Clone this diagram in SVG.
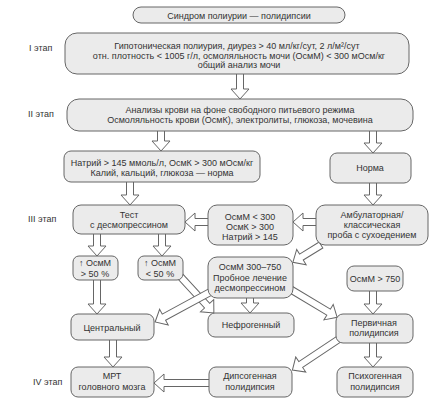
<svg xmlns="http://www.w3.org/2000/svg" width="446" height="400" viewBox="0 0 446 400">
<style>
.bx{fill:#ebebeb;stroke:#666;stroke-width:1}
.ar{fill:#fff;stroke:#666;stroke-width:1;stroke-linejoin:miter}
text{font-family:"Liberation Sans",Arial,sans-serif;font-size:9px;fill:#333;text-anchor:middle}
.lb{text-anchor:start}
</style>
<rect width="446" height="400" fill="#fff"/>
<g id="connectors">
<path class="ar" transform="translate(240,73) rotate(90)" d="M0,-3.5H16V-9L26,0L16,9V3.5H0Z"/>
<path class="ar" transform="translate(161,130) rotate(90)" d="M0,-3.5H11V-9L21,0L11,9V3.5H0Z"/>
<path class="ar" transform="translate(373,130) rotate(90)" d="M0,-3.5H13V-9L23,0L13,9V3.5H0Z"/>
<path class="ar" transform="translate(130,181) rotate(90)" d="M0,-3.5H14V-9L24,0L14,9V3.5H0Z"/>
<path class="ar" transform="translate(373,182) rotate(90)" d="M0,-3.5H13V-9L23,0L13,9V3.5H0Z"/>
<path class="ar" transform="translate(317,222) rotate(180)" d="M0,-3.5H14V-9L24,0L14,9V3.5H0Z"/>
<path class="ar" transform="translate(209,222) rotate(180)" d="M0,-3.5H14V-9L24,0L14,9V3.5H0Z"/>
<path class="ar" transform="translate(97,233) rotate(90)" d="M0,-3.5H13V-9L23,0L13,9V3.5H0Z"/>
<path class="ar" transform="translate(162,233) rotate(90)" d="M0,-3.5H13V-9L23,0L13,9V3.5H0Z"/>
<path class="ar" transform="translate(321,245) rotate(148.4)" d="M0,-3.5H23V-9L33,0L23,9V3.5H0Z"/>
<path class="ar" transform="translate(97,279) rotate(90)" d="M0,-3.5H25V-9L35,0L25,9V3.5H0Z"/>
<path class="ar" transform="translate(178,274) rotate(47.4)" d="M0,-3.5H43V-9L53,0L43,9V3.5H0Z"/>
<path class="ar" transform="translate(214,290) rotate(151.5)" d="M0,-3.5H57V-9L67,0L57,9V3.5H0Z"/>
<path class="ar" transform="translate(250,297) rotate(90)" d="M0,-3.5H6V-9L16,0L6,9V3.5H0Z"/>
<path class="ar" transform="translate(290,289) rotate(31)" d="M0,-3.5H45V-9L55,0L45,9V3.5H0Z"/>
<path class="ar" transform="translate(373,290) rotate(90)" d="M0,-3.5H14V-9L24,0L14,9V3.5H0Z"/>
<path class="ar" transform="translate(113,339) rotate(90)" d="M0,-3.5H18V-9L28,0L18,9V3.5H0Z"/>
<path class="ar" transform="translate(339,339) rotate(146.3)" d="M0,-3.5H46V-9L56,0L46,9V3.5H0Z"/>
<path class="ar" transform="translate(373,342) rotate(90)" d="M0,-3.5H15V-9L25,0L15,9V3.5H0Z"/>
<path class="ar" transform="translate(210,383) rotate(180)" d="M0,-3.5H46V-9L56,0L46,9V3.5H0Z"/>
</g>
<g id="stages">
<text class="lb" x="29" y="51">I этап</text>
<text class="lb" x="28" y="117">II этап</text>
<text class="lb" x="28" y="222">III этап</text>
<text class="lb" x="33" y="385">IV этап</text>
</g>
<g id="n1"><rect class="bx" x="133" y="7" width="212" height="16" rx="8"/><text x="239" y="18.5">Синдром полиурии — полидипсии</text></g>
<g id="n2"><rect class="bx" x="65" y="33" width="344" height="41" rx="12"/>
<text x="237" y="49">Гипотоническая полиурия, диурез &gt; 40 мл/кг/сут, 2 л/м²/сут</text>
<text x="239" y="58.5">отн. плотность &lt; 1005 г/л, осмоляльность мочи (ОсмМ) &lt; 300 мОсм/кг</text>
<text x="239" y="68">общий анализ мочи</text></g>
<g id="n3"><rect class="bx" x="67" y="99" width="346" height="32" rx="12"/>
<text x="240" y="113">Анализы крови на фоне свободного питьевого режима</text>
<text x="240" y="123">Осмоляльность крови (ОсмК), электролиты, глюкоза, мочевина</text></g>
<g id="n4"><rect class="bx" x="64" y="151" width="196" height="31" rx="7"/>
<text x="162" y="166">Натрий &gt; 145 ммоль/л, ОсмК &gt; 300 мОсм/кг</text>
<text x="162" y="176">Калий, кальций, глюкоза — норма</text></g>
<g id="n5"><rect class="bx" x="330" y="153" width="81" height="30" rx="7"/>
<text x="370" y="171">Норма</text></g>
<g id="n6"><rect class="bx" x="73" y="205" width="112" height="29" rx="8"/>
<text x="129" y="218">Тест</text><text x="129" y="228">с десмопрессином</text></g>
<g id="n7"><rect class="bx" x="208" y="205" width="85" height="40" rx="9"/>
<text x="250" y="220">ОсмМ &lt; 300</text><text x="250" y="230">ОсмК &gt; 300</text><text x="250" y="240">Натрий &gt; 145</text></g>
<g id="n8"><rect class="bx" x="316" y="205" width="112" height="40" rx="9"/>
<text x="372" y="218">Амбулаторная/</text><text x="372" y="228">классическая</text><text x="372" y="238">проба с сухоедением</text></g>
<g id="n9"><rect class="bx" x="73" y="256" width="45" height="24" rx="6"/>
<text x="95" y="266">↑ ОсмМ</text><text x="95" y="277">&gt; 50 %</text></g>
<g id="n10"><rect class="bx" x="138" y="256" width="45" height="24" rx="6"/>
<text x="160" y="266">↑ ОсмМ</text><text x="160" y="277">&lt; 50 %</text></g>
<g id="n11"><rect class="bx" x="208" y="257" width="85" height="41" rx="9"/>
<text x="250" y="270">ОсмМ 300–750</text><text x="250" y="280.5">Пробное лечение</text><text x="250" y="291">десмопрессином</text></g>
<g id="n12"><rect class="bx" x="347" y="266" width="56" height="25" rx="7"/>
<text x="375" y="282">ОсмМ &gt; 750</text></g>
<g id="n13"><rect class="bx" x="71" y="314" width="83" height="26" rx="7"/>
<text x="112" y="331">Центральный</text></g>
<g id="n14"><rect class="bx" x="208" y="313" width="86" height="24" rx="7"/>
<text x="251" y="328">Нефрогенный</text></g>
<g id="n15"><rect class="bx" x="336" y="314" width="77" height="29" rx="7"/>
<text x="374" y="326">Первичная</text><text x="374" y="336">полидипсия</text></g>
<g id="n16"><rect class="bx" x="71" y="367" width="83" height="30" rx="7"/>
<text x="112" y="379">МРТ</text><text x="112" y="390">головного мозга</text></g>
<g id="n17"><rect class="bx" x="209" y="367" width="83" height="30" rx="7"/>
<text x="250" y="379">Дипсогенная</text><text x="250" y="390">полидипсия</text></g>
<g id="n18"><rect class="bx" x="337" y="367" width="76" height="30" rx="7"/>
<text x="375" y="379">Психогенная</text><text x="375" y="390">полидипсия</text></g>
</svg>
